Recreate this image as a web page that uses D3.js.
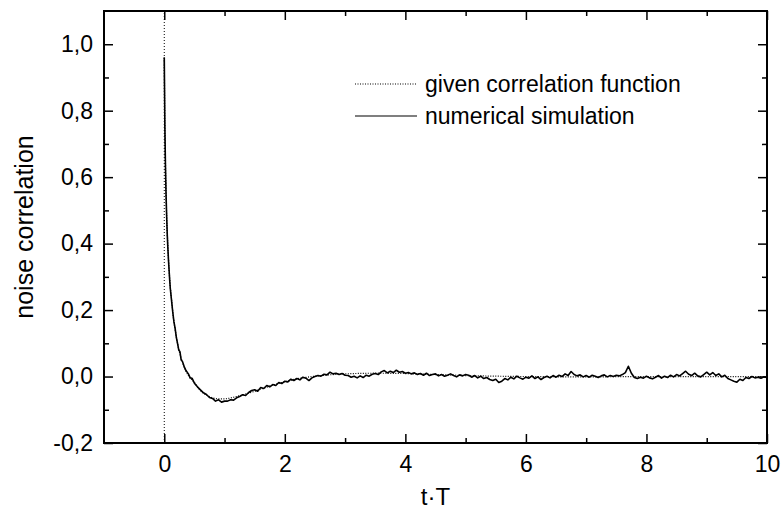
<!DOCTYPE html>
<html><head><meta charset="utf-8">
<script src="https://cdn.jsdelivr.net/npm/d3@7"></script>
<style>
body{margin:0;background:#fff;}
svg{display:block;font-family:"Liberation Sans",Arial,sans-serif;}
</style></head>
<body><svg id="c" width="783" height="516"></svg>
<script>
// ---- data ----
const xMajorTicks = [0, 2, 4, 6, 8, 10];
const xMinorTicks = [1, 3, 5, 7, 9];
const yMajorTicks = [-0.2, 0, 0.2, 0.4, 0.6, 0.8, 1.0];
const yMinorTicks = [-0.1, 0.1, 0.3, 0.5, 0.7, 0.9];
const seriesNames = ["given correlation function", "numerical simulation"];

// given correlation function (smooth)
const givenT = [0, 0.005, 0.01, 0.02, 0.03, 0.04, 0.05, 0.06, 0.08, 0.1, 0.125, 0.15, 0.2, 0.25, 0.3, 0.35, 0.4, 0.5, 0.6, 0.7, 0.8, 0.9, 1.0, 1.2, 1.4, 1.6, 1.8, 2.0, 2.2, 2.5, 2.8, 3.0, 3.5, 4.0, 4.5, 5.0, 6.0, 7.0, 8.0, 10.0];
const givenV = [0.96, 0.85, 0.76, 0.64, 0.55, 0.48, 0.43, 0.39, 0.32, 0.27, 0.225, 0.18, 0.12, 0.075, 0.045, 0.02, 0.003, -0.018, -0.042, -0.056, -0.064, -0.067, -0.067, -0.060, -0.050, -0.038, -0.026, -0.016, -0.007, 0.001, 0.006, 0.008, 0.010, 0.009, 0.006, 0.003, 0.0, -0.001, 0.0, 0.0];

// numerical simulation: initial dense part
const simHeadT = [0, 0.01, 0.02, 0.03, 0.04, 0.05, 0.06, 0.07, 0.08, 0.09, 0.1, 0.12, 0.14, 0.16, 0.18, 0.2, 0.22, 0.24, 0.26, 0.28, 0.3, 0.33, 0.36, 0.4, 0.43, 0.46, 0.5];
const simHeadV = [0.96, 0.75, 0.63, 0.545, 0.48, 0.425, 0.385, 0.35, 0.32, 0.29, 0.265, 0.23, 0.195, 0.165, 0.145, 0.118, 0.10, 0.08, 0.075, 0.05, 0.046, 0.03, 0.018, 0.008, -0.004, -0.005, -0.02];
// numerical simulation: sampled every 0.05 from t = 0.55 to 10.0
const simTailStart = 0.55;
const simTailStep = 0.05;
const simTailV = [
 -0.031,-0.040,-0.049,-0.054,-0.063,-0.066,-0.074,-0.070,-0.077,-0.074,
 -0.074,-0.070,-0.071,-0.064,-0.060,-0.055,-0.057,-0.048,-0.042,-0.040,
 -0.044,-0.033,-0.036,-0.027,-0.031,-0.024,-0.027,-0.018,-0.021,-0.014,
 -0.016,-0.008,-0.012,-0.006,-0.010,-0.002,-0.005,-0.012,-0.004,0.000,
 0.003,0.001,0.007,0.005,0.013,0.008,0.010,0.006,0.009,0.004,
 0.003,-0.002,0.001,-0.004,0.002,-0.003,0.004,0.001,0.007,0.009,
 0.006,0.014,0.018,0.011,0.016,0.012,0.019,0.013,0.015,0.010,
 0.012,0.008,0.011,0.006,0.009,0.004,0.010,0.003,0.006,0.008,
 0.002,0.006,0.001,0.004,0.008,0.003,-0.001,0.005,0.002,0.006,
 0.004,-0.002,0.003,-0.004,0.001,-0.006,-0.003,-0.009,-0.012,-0.008,
 -0.018,-0.014,-0.006,-0.010,-0.002,-0.007,0.001,-0.004,-0.008,-0.002,
 -0.005,0.002,-0.006,-0.001,-0.009,-0.003,0.001,-0.004,0.003,-0.002,
 0.004,0.000,0.008,0.003,0.015,0.006,0.002,0.005,-0.001,0.003,
 -0.002,0.004,0.001,-0.003,0.002,0.005,-0.001,0.003,0.000,0.004,
 0.002,0.006,0.012,0.031,0.010,-0.003,-0.006,-0.002,-0.005,0.001,
 -0.004,-0.007,-0.002,0.003,-0.005,0.001,-0.003,0.004,-0.001,0.006,
 0.002,0.009,0.016,0.007,0.003,0.010,0.002,-0.001,0.006,0.013,
 0.005,0.012,0.003,0.008,-0.001,0.004,-0.006,-0.010,-0.014,-0.017,
 -0.008,-0.012,-0.003,-0.006,0.000,-0.004,-0.002,-0.005,-0.001,-0.003
];

// ---- layout ----
const L = 104, R = 767, T = 11, B = 443;
const FONT = '"Liberation Sans",Arial,sans-serif';
const svg = d3.select("#c");
const x = d3.scaleLinear().domain([-1, 10]).range([L, R]);
const y = d3.scaleLinear().domain([-0.2, 1.1]).range([B, T]);
const fmt = d => d3.format(".1f")(d).replace(".", ",").replace("−", "-");

const given = givenT.map((t, i) => [t, givenV[i]]);
const sim = simHeadT.map((t, i) => [t, simHeadV[i]])
  .concat(simTailV.map((v, i) => [simTailStart + i * simTailStep, v]));

const line = d3.line().x(d => x(d[0])).y(d => y(d[1]));

// vertical dotted line at t=0
svg.append("line")
  .attr("x1", x(0)).attr("x2", x(0)).attr("y1", y(-0.2)).attr("y2", y(1.1))
  .attr("stroke", "#000").attr("stroke-width", 1).attr("stroke-dasharray", "1,2");

// simulation
svg.append("path").datum(sim).attr("d", line)
  .attr("fill", "none").attr("stroke", "#000").attr("stroke-width", 1.6)
  .attr("stroke-linejoin", "round");
// given
svg.append("path").datum(given).attr("d", d3.line().curve(d3.curveMonotoneX).x(d => x(d[0])).y(d => y(d[1])))
  .attr("fill", "none").attr("stroke", "#000").attr("stroke-width", 1.2)
  .attr("stroke-dasharray", "1,1.5");

// axes with inward ticks
function styleAxis(g) {
  g.select(".domain").remove();
  g.selectAll("line").attr("stroke", "#000").attr("stroke-width", 1.5);
  g.selectAll("text").attr("font-size", 23).attr("fill", "#000").attr("font-family", FONT);
}
svg.append("g").attr("transform", `translate(0,${B})`)
  .call(d3.axisBottom(x).tickValues(xMajorTicks).tickSize(-9).tickPadding(13).tickFormat(d3.format("d")))
  .call(styleAxis);
svg.append("g").attr("transform", `translate(0,${B})`)
  .call(d3.axisBottom(x).tickValues(xMinorTicks).tickSize(-5).tickFormat(""))
  .call(styleAxis);
svg.append("g").attr("transform", `translate(0,${T})`)
  .call(d3.axisTop(x).tickValues(xMajorTicks).tickSize(-9).tickFormat(""))
  .call(styleAxis);
svg.append("g").attr("transform", `translate(0,${T})`)
  .call(d3.axisTop(x).tickValues(xMinorTicks).tickSize(-5).tickFormat(""))
  .call(styleAxis);
svg.append("g").attr("transform", `translate(${L},0)`)
  .call(d3.axisLeft(y).tickValues(yMajorTicks).tickSize(-9).tickPadding(11).tickFormat(fmt))
  .call(styleAxis);
svg.append("g").attr("transform", `translate(${L},0)`)
  .call(d3.axisLeft(y).tickValues(yMinorTicks).tickSize(-5).tickFormat(""))
  .call(styleAxis);
svg.append("g").attr("transform", `translate(${R},0)`)
  .call(d3.axisRight(y).tickValues(yMajorTicks).tickSize(-9).tickFormat(""))
  .call(styleAxis);
svg.append("g").attr("transform", `translate(${R},0)`)
  .call(d3.axisRight(y).tickValues(yMinorTicks).tickSize(-5).tickFormat(""))
  .call(styleAxis);

// frame
svg.append("rect").attr("x", L).attr("y", T).attr("width", R - L).attr("height", B - T)
  .attr("fill", "none").attr("stroke", "#000").attr("stroke-width", 2);

// axis titles
svg.append("text").attr("x", (L + R) / 2).attr("y", 505).attr("text-anchor", "middle")
  .attr("font-size", 24).attr("font-family", FONT).text("t\u00B7T");
svg.append("text").attr("transform", `translate(33,${(T + B) / 2}) rotate(-90)`)
  .attr("text-anchor", "middle").attr("font-size", 25).attr("font-family", FONT).text("noise correlation");

// legend
const lg = svg.append("g");
const legY = [84, 116];
lg.append("line").attr("x1", 355).attr("x2", 417).attr("y1", legY[0]).attr("y2", legY[0])
  .attr("stroke", "#000").attr("stroke-width", 1.2).attr("stroke-dasharray", "1,1.5");
lg.append("line").attr("x1", 355).attr("x2", 417).attr("y1", legY[1]).attr("y2", legY[1])
  .attr("stroke", "#000").attr("stroke-width", 1.2);
seriesNames.forEach((n, i) => {
  lg.append("text").attr("x", 425).attr("y", legY[i] + 8).attr("font-size", 23).attr("font-family", FONT).text(n);
});
</script></body></html>
